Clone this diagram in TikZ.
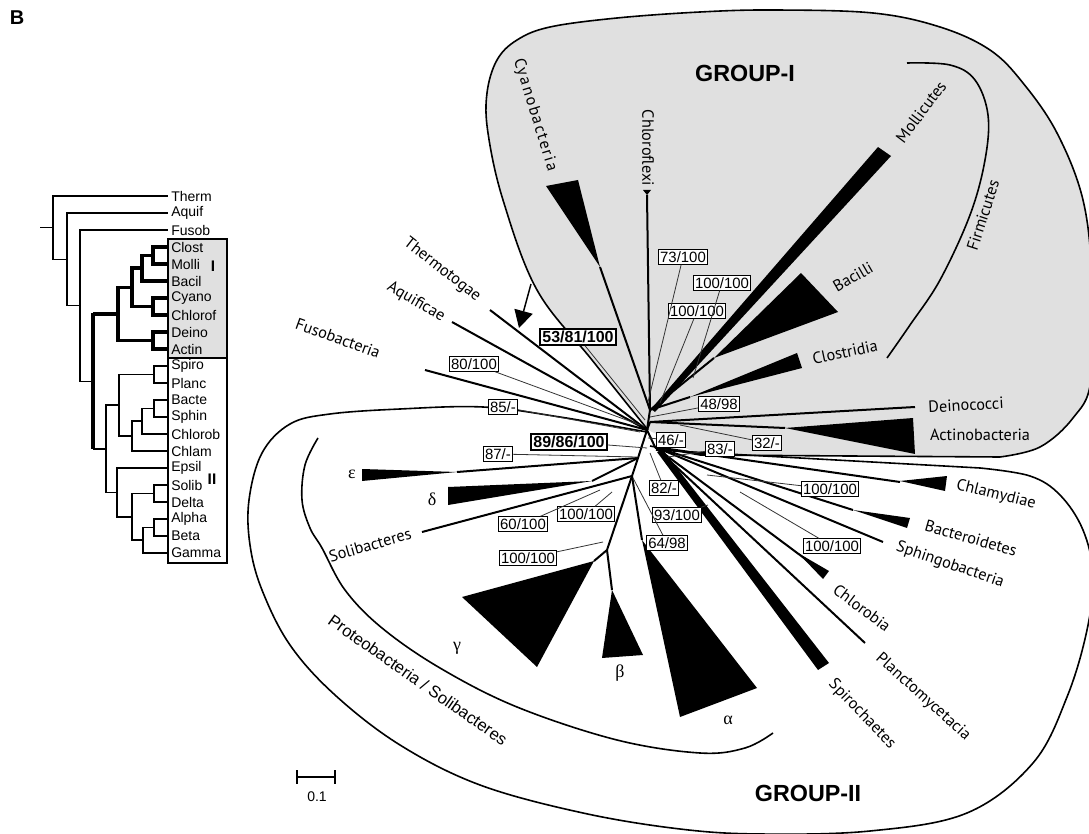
\documentclass[tikz,border=0pt]{standalone}
\usepackage{fontspec}
\usetikzlibrary{arrows.meta}
\setmainfont{Liberation Sans}
\newfontfamily\txf{PT Sans}
\newfontfamily\grk{Liberation Serif}
\definecolor{gfill}{HTML}{E0E0E0}
\begin{document}
\begin{tikzpicture}[x=0.75pt,y=-0.75pt,
 br/.style={line width=1.5pt},
 ld/.style={line width=0.6pt, black!80},
 outl/.style={line width=1.2pt},
 bx/.style={draw, fill=white, line width=0.7pt, inner sep=1.3pt, font=\fontsize{11.2}{12}\selectfont},
 bbx/.style={draw, fill=white, line width=1.5pt, inner sep=1.5pt, font=\bfseries\fontsize{12}{14}\selectfont},
 tx/.style={font=\txf\fontsize{12.2}{14}\selectfont, inner sep=0},
 gk/.style={font=\grk\fontsize{13.5}{14}\selectfont, inner sep=0},
 cl/.style={font=\fontsize{10.5}{12}\selectfont, inner sep=0, anchor=west},
 thn/.style={line width=1.1pt},
 thk/.style={line width=2.6pt},
 grp/.style={font=\bfseries\fontsize{17.5}{20}\selectfont, inner sep=0}
]
\path[use as bounding box] (0,0) rectangle (1089,834);

\node[font=\bfseries\fontsize{15}{16}\selectfont, inner sep=0] (lblB) at (17,18) {B};

% ---------------- left cladogram ----------------
\fill[gfill] (168,239) rectangle (227,358);
\draw[thn] (168,239) rectangle (227,358);
\draw[thn] (168,358) rectangle (227,563);
% thick group I
\draw[thk] (168,247) -- (153,247) -- (153,264) -- (168,264);
\draw[thk] (153,255.5) -- (142,255.5) -- (142,281) -- (168,281);
\draw[thk] (168,298) -- (153,298) -- (153,315) -- (168,315);
\draw[thk] (142,268.2) -- (132,268.2) -- (132,306.5) -- (153,306.5);
\draw[thk] (168,332) -- (153,332) -- (153,349) -- (168,349);
\draw[thk] (132,287.4) -- (118,287.4) -- (118,340.5) -- (153,340.5);
\draw[thk] (118,314) -- (93,314);
\draw[thk] (93,312.7) -- (93,449);
% group II
\draw[thn] (168,366) -- (154,366) -- (154,383) -- (168,383);
\draw[thn] (168,400) -- (154,400) -- (154,417) -- (168,417);
\draw[thn] (154,408.5) -- (142,408.5) -- (142,434) -- (168,434);
\draw[thn] (142,421.2) -- (132,421.2) -- (132,451) -- (168,451);
\draw[thn] (154,374.5) -- (119,374.5) -- (119,436) -- (132,436);
\draw[thn] (168,485) -- (154,485) -- (154,502) -- (168,502);
\draw[thn] (168,519) -- (154,519) -- (154,536) -- (168,536);
\draw[thn] (154,527.5) -- (143,527.5) -- (143,553) -- (168,553);
\draw[thn] (154,493.5) -- (132,493.5) -- (132,540.2) -- (143,540.2);
\draw[thn] (168,468) -- (117,468) -- (117,516.9) -- (132,516.9);
\draw[thn] (119,405.2) -- (106,405.2) -- (106,492.5) -- (117,492.5);
\draw[thn] (106,448.9) -- (93,448.9);
% outer
\draw[thn] (93,381.5) -- (80,381.5) -- (80,230) -- (168,230);
\draw[thn] (80,305.7) -- (67,305.7) -- (67,213) -- (168,213);
\draw[thn] (67,259.4) -- (53,259.4) -- (53,196) -- (168,196);
\draw[thn] (53,227.7) -- (40,227.7);
% leaf labels
\node[cl] (cThe) at (171,196) {Therm};
\node[cl] (cAqu) at (171,213) {Aquif};
\node[cl] (cFus) at (171,230) {Fusob};
\node[cl] (cClo) at (171,247) {Clost};
\node[cl] (cMol) at (171,264) {Molli};
\node[cl] (cBac) at (171,281) {Bacil};
\node[cl] (cCya) at (171,298) {Cyano};
\node[cl] (cChf) at (171,315) {Chlorof};
\node[cl] (cDei) at (171,332) {Deino};
\node[cl] (cAct) at (171,349) {Actin};
\node[cl] (cSpi) at (171,366) {Spiro};
\node[cl] (cPla) at (171,383) {Planc};
\node[cl] (cBct) at (171,400) {Bacte};
\node[cl] (cSph) at (171,417) {Sphin};
\node[cl] (cChb) at (171,434) {Chlorob};
\node[cl] (cChl) at (171,451) {Chlam};
\node[cl] (cEps) at (171,468) {Epsil};
\node[cl] (cSol) at (171,485) {Solib};
\node[cl] (cDel) at (171,502) {Delta};
\node[cl] (cAlp) at (171,519) {Alpha};
\node[cl] (cBet) at (171,536) {Beta};
\node[cl] (cGam) at (171,553) {Gamma};
\node[font=\bfseries\fontsize{11.5}{12}\selectfont, inner sep=0] (mI) at (213,266) {I};
\node[font=\bfseries\fontsize{11.5}{12}\selectfont, inner sep=0] (mII) at (212,479) {II};

% ---------------- group outlines ----------------
\fill[gfill] plot[smooth,tension=0.6] coordinates {(648,430) (592,360) (537,290) (503,200) (488,133) (487,93) (497,60) (517,40) (550,27) (617,18) (700,12) (773,10) (873,13) (940,27) (990,50) (1023,83) (1057,133) (1083,200) (1092,280) (1091,380) (1073,418) (1040,447) (1000,457)} -- (700,455) -- cycle;
\draw[outl] plot[smooth,tension=0.6] coordinates {(648,430) (592,360) (537,290) (503,200) (488,133) (487,93) (497,60) (517,40) (550,27) (617,18) (700,12) (773,10) (873,13) (940,27) (990,50) (1023,83) (1057,133) (1083,200) (1092,280) (1091,380) (1073,418) (1040,447) (1000,457)} -- (700,455) -- (650,446);
\draw[outl] plot[smooth,tension=0.6] coordinates {(647,432) (560,417) (483,407) (400,409) (330,414) (290,424) (262,453) (249,500) (250,545) (262,590) (290,645) (335,695) (400,745) (480,785) (583,813) (680,829) (760,834) (870,831) (967,813) (1033,763) (1067,697) (1087,630) (1093,575) (1083,530) (1060,495) (1030,476) (980,468)} -- (656,450);
% inner bracket
\draw[outl] plot[smooth,tension=0.6] coordinates {(318,438) (305,465) (302,500) (310,528) (322,548) (345,590) (382,628) (440,668) (517,707) (617,740) (700,753) (745,748) (773,733)};
% Firmicutes bracket
\draw[outl] plot[smooth,tension=0.6] coordinates {(907,63) (950,65) (975,80) (988,115) (985,160) (970,215) (940,280) (910,325) (887,358)};

% ---------------- tree ----------------
\coordinate (H) at (647,430);
\coordinate (G) at (650,410);
\coordinate (D) at (650,422);
\coordinate (P) at (632,476);
\coordinate (Q) at (607,550);
\coordinate (R) at (655,447);
\coordinate (E) at (638,458);
\coordinate (cyT) at (600,267);
\coordinate (chT) at (647,195);
\coordinate (baT) at (714,358);
\coordinate (clT) at (690,397);
\coordinate (deT) at (915,407);
\coordinate (acT) at (785,428);
\coordinate (thT) at (490,310);
\coordinate (aqT) at (452,322);
\coordinate (fuT) at (425,370);
\coordinate (epT) at (457,472);
\coordinate (dlT) at (592,481);
\coordinate (soT) at (422,532);
\coordinate (gaT) at (594,561);
\coordinate (beT) at (612,590);
\coordinate (alT) at (642,540);
\coordinate (cmT) at (900,482);
\coordinate (bcT) at (853,510);
\coordinate (spT) at (883,542);
\coordinate (coT) at (812,564);
\coordinate (plT) at (865,643);

\draw[br] (H) -- (G);
\draw[br] (G) -- (cyT);
\draw[br] (G) -- (chT);
\draw[br] (G) -- (baT);
\draw[br] (G) -- (clT);
\draw[br] (H) -- (D);
\draw[br] (D) -- (deT);
\draw[br] (D) -- (acT);
\draw[br] (H) -- (thT);
\draw[br] (H) -- (aqT);
\draw[br] (H) -- (fuT);
\draw[br] (H) -- (R);
\draw[br] (R) -- (cmT);
\draw[br] (R) -- (bcT);
\draw[br] (R) -- (spT);
\draw[br] (R) -- (coT);
\draw[br] (R) -- (plT);
\draw[br] (H) -- (E) -- (P);
\draw[br] (E) -- (epT);
\draw[br] (E) -- (dlT);
\draw[br] (P) -- (soT);
\draw[br] (P) -- (Q);
\draw[br] (Q) -- (gaT);
\draw[br] (Q) -- (beT);
\draw[br] (P) -- (alT);

% clade triangles
\fill (546,186) -- (578,180) -- (cyT) -- cycle;
\fill (643,190) -- (651,190) -- (chT) -- cycle;
\fill (651,409) -- (878,147) -- (891,156) -- (655,412) -- cycle;
\fill (801,273) -- (838,312) -- (baT) -- cycle;
\fill (797,353) -- (802,368) -- (clT) -- cycle;
\fill (913,418) -- (915,454) -- (acT) -- cycle;
\fill (362,469) -- (362,481) -- (epT) -- cycle;
\fill (448,487) -- (448,505) -- (dlT) -- cycle;
\fill (462,597) -- (537,667) -- (gaT) -- cycle;
\fill (602,658) -- (643,655) -- (beT) -- cycle;
\fill (680,717) -- (757,688) -- (alT) -- cycle;
\fill (900,481) -- (947,476) -- (945,491) -- cycle;
\fill (853,510) -- (910,518) -- (907,528) -- cycle;
\fill (798,553) -- (829,571) -- (823,579) -- cycle;
\fill (657,452) -- (663,450) -- (829,663) -- (818,670) -- cycle;

% arrow
\coordinate (arT) at (531,284);
\coordinate (arH) at (519,328);
\draw[line width=1.1pt, -{Triangle[length=13pt,width=14pt]}] (arT) -- (arH);

% ---------------- support boxes ----------------
\coordinate (t73) at (648,402);
\coordinate (t100a) at (693,378);
\coordinate (t100b) at (660,403);
\coordinate (t53) at (645,420);
\coordinate (t80) at (640,425);
\coordinate (t85) at (640,432);
\coordinate (t89) at (647,448);
\coordinate (t87) at (637,457);
\coordinate (t48) at (650,417);
\coordinate (t46) at (648,438);
\coordinate (t83) at (668,457);
\coordinate (t32) at (680,425);
\coordinate (t100c) at (707,475);
\coordinate (t100d) at (740,492);
\coordinate (t82) at (650,453);
\coordinate (t93) at (708,505);
\coordinate (t64) at (633,478);
\coordinate (t60) at (600,490);
\coordinate (t100e) at (612,492);
\coordinate (t100f) at (603,542);

\node[bx] (b73) at (683,257) {73/100};
\node[bx] (b100a) at (722,283) {100/100};
\node[bx] (b100b) at (697,311) {100/100};
\node[bbx] (b53) at (578,337) {53/81/100};
\node[bx] (b80) at (474,364) {80/100};
\node[bx] (b85) at (503,407) {85/-};
\node[bbx] (b89) at (569,442) {89/86/100};
\node[bx] (b87) at (498,454) {87/-};
\node[bx] (b48) at (719,404) {48/98};
\node[bx] (b46) at (671,440) {46/-};
\node[bx] (b83) at (720,449) {83/-};
\node[bx] (b32) at (767,443) {32/-};
\node[bx] (b100c) at (830,489) {100/100};
\node[bx] (b100d) at (832,546) {100/100};
\node[bx] (b82) at (664,488) {82/-};
\node[bx] (b93) at (677,515) {93/100};
\node[bx] (b64) at (667,543) {64/98};
\node[bx] (b60) at (523,524) {60/100};
\node[bx] (b100e) at (586,514) {100/100};
\node[bx] (b100f) at (528,558) {100/100};

\draw[ld] (b73) -- (t73);
\draw[ld] (b100a) -- (t100a);
\draw[ld] (b100b) -- (t100b);
\draw[ld] (b53) -- (t53);
\draw[ld] (b80) -- (t80);
\draw[ld] (b85) -- (t85);
\draw[ld] (b89) -- (t89);
\draw[ld] (b87) -- (t87);
\draw[ld] (b48) -- (t48);
\draw[ld] (b46) -- (t46);
\draw[ld] (b83) -- (t83);
\draw[ld] (b32) -- (t32);
\draw[ld] (b100c) -- (t100c);
\draw[ld] (b100d) -- (t100d);
\draw[ld] (b82) -- (t82);
\draw[ld] (b93) -- (t93);
\draw[ld] (b64) -- (t64);
\draw[ld] (b60) -- (t60);
\draw[ld] (b100e) -- (t100e);
\draw[ld] (b100f) -- (t100f);

% ---------------- labels ----------------
\node[tx, rotate=-38] (lThe) at (442,270) {Thermotogae};
\node[tx, rotate=-30] (lAqu) at (416,302) {Aquificae};
\node[tx, rotate=-20] (lFus) at (338,338) {Fusobacteria};
\node[tx, rotate=-73] (lCya) at (535,115) {\addfontfeature{LetterSpace=10}Cyanobacteria};
\node[tx, rotate=-90] (lChf) at (648,148) {Chloroflexi};
\node[tx, rotate=53] (lMol) at (921,112) {Mollicutes};
\node[tx, rotate=30] (lBac) at (853,277) {Bacilli};
\node[tx, rotate=12] (lClo) at (845,352) {Clostridia};
\node[tx, rotate=72] (lFir) at (983,215) {Firmicutes};
\node[tx, rotate=3] (lDei) at (966,405) {Deinococci};
\node[tx] (lAct) at (980,435) {Actinobacteria};
\node[tx, rotate=-14] (lChl) at (996,495) {Chlamydiae};
\node[tx, rotate=-16] (lBct) at (971,538) {Bacteroidetes};
\node[tx, rotate=-19] (lSph) at (950,565) {Sphingobacteria};
\node[tx, rotate=-37] (lChb) at (862,608) {Chlorobia};
\node[tx, rotate=-42] (lPla) at (923,697) {Planctomycetacia};
\node[tx, rotate=-46] (lSpi) at (862,714) {Spirochaetes};
\node[tx, rotate=16] (lSol) at (370,545) {Solibacteres};
\node[font=\fontsize{12.5}{14}\selectfont, inner sep=0, rotate=-35] (lPro) at (418,680) {Proteobacteria / Solibacteres};
\node[gk] (lEps) at (352,474) {ε};
\node[gk] (lDel) at (432,499) {δ};
\node[gk] (lGam) at (457,648) {γ};
\node[gk] (lBet) at (620,673) {β};
\node[gk] (lAlp) at (728,720) {α};
\node[grp] (gI) at (745,73) {GROUP-I};
\node[grp] (gII) at (808,793) {GROUP-II};

% scale bar
\coordinate (sL) at (297,777);
\coordinate (sR) at (335,777);
\draw[line width=1.3pt] (sL) -- (sR);
\draw[line width=1.3pt] ([yshift=5]sL) -- ([yshift=-5]sL);
\draw[line width=1.3pt] ([yshift=5]sR) -- ([yshift=-5]sR);
\node[font=\fontsize{10.5}{12}\selectfont, inner sep=0] (sc) at (317,797) {0.1};
\end{tikzpicture}
\end{document}
